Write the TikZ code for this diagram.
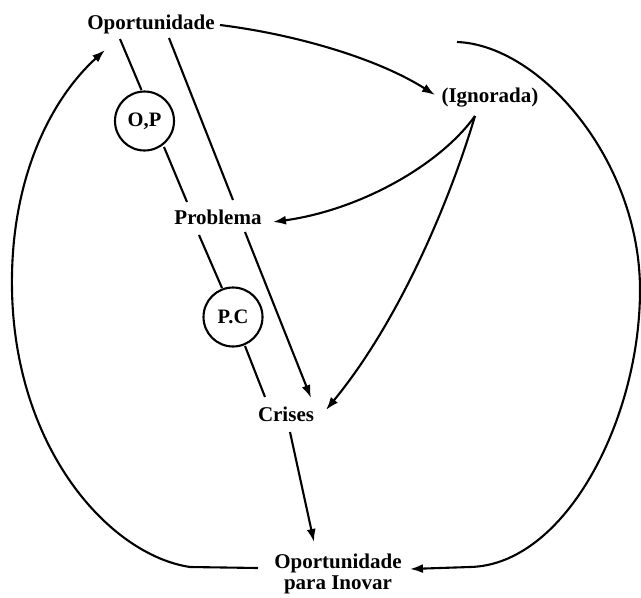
\documentclass[tikz,border=0pt]{standalone}
\usepackage{fontspec}
\setmainfont{Liberation Serif}
\usetikzlibrary{arrows.meta}
\begin{document}
\begin{tikzpicture}[x=1pt,y=-1pt,
  lbl/.style={font=\bfseries\fontsize{21}{21}\selectfont, inner sep=0pt},
  ring/.style={circle, draw, line width=2.1pt, minimum size=59pt, inner sep=0pt,
    font=\bfseries\fontsize{20.5}{21}\selectfont},
  wire/.style={line width=2.1pt},
  arr/.style={line width=2.1pt, -{Latex[length=13pt,width=9pt]}}]
\useasboundingbox (0,0) rectangle (641,598);

% text nodes
\node[lbl, anchor=base] (op) at (151,29) {Oportunidade};
\node[lbl, anchor=base] (ign) at (490,102) {(Ignorada)};
\node[lbl, anchor=base] (prob) at (218,224) {Problema};
\node[lbl, anchor=base] (cri) at (286,421) {Crises};
\node[lbl, align=center] (inov) at (338,574) {Oportunidade\\para Inovar};

% circles
\node[ring] (opc) at (144.5,121) {O,P};
\node[ring] (pcc) at (233,317) {P.C};

% named end points of the parallel lines
\coordinate (a1) at (120,39);
\coordinate (a2) at (141.5,90);
\coordinate (a3) at (164,147);
\coordinate (a4) at (187,202);
\coordinate (a5) at (199,235);
\coordinate (a6) at (222,288);
\coordinate (a7) at (245,346);
\coordinate (a8) at (265,397);
\coordinate (b1) at (169,38);
\coordinate (b2) at (233,200);
\coordinate (b3) at (245,232);
\coordinate (b4) at (311,398);

% other connector end points
\coordinate (opR) at (220,25);
\coordinate (ignL) at (435,95);
\coordinate (ignB) at (475,116);
\coordinate (probR) at (273,222);
\coordinate (criR) at (326,410);
\coordinate (criB) at (290,432);
\coordinate (inovT) at (314,542);
\coordinate (inovL) at (258,568);
\coordinate (inovR) at (410,569);
\coordinate (opL) at (105,50);
\coordinate (rtop) at (457,42);

% parallel lines
\draw[wire] (a1) -- (a2);
\draw[wire] (a3) -- (a4);
\draw[wire] (a5) -- (a6);
\draw[wire] (a7) -- (a8);
\draw[wire] (b1) -- (b2);
\draw[arr] (b3) -- (b4);

% curved connectors
\draw[arr] (opR) .. controls (300,35) and (380,60) .. (ignL);
\draw[arr] (ignB) .. controls (440,165) and (360,210) .. (probR);
\draw[arr] (ignB) .. controls (450,200) and (400,320) .. (criR);
\draw[arr] (criB) -- (inovT);

% big arcs
\draw[arr] (inovL) -- (190,567) .. controls (110,555) and (15,450) .. (12,290)
  .. controls (10,180) and (50,100) .. (opL);
\draw[arr] (rtop) .. controls (540,45) and (640,160) .. (640,290)
  .. controls (640,420) and (565,565) .. (470,567) -- (inovR);
\end{tikzpicture}
\end{document}
